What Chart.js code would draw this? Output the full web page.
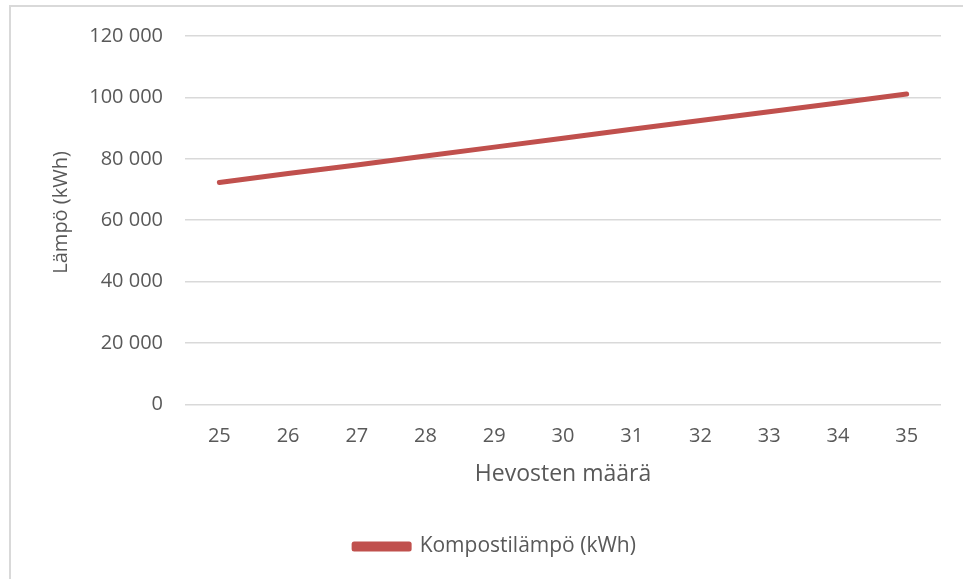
<!DOCTYPE html>
<html>
<head>
<meta charset="utf-8">
<script src="https://cdn.jsdelivr.net/npm/chart.js@4.4.1/dist/chart.umd.min.js"></script>
<style>
  html, body { margin: 0; padding: 0; background: #ffffff; overflow: hidden; }
  #frame {
    position: absolute; left: 9px; top: 5px;
    width: 960px; height: 580px;
    border-left: 2px solid #d9d9d9; border-top: 2px solid #d9d9d9;
  }
  #wrap { position: absolute; left: 0; top: 0; width: 952px; height: 572px; }
</style>
</head>
<body>
<div id="frame"><div id="wrap"><canvas id="c"></canvas></div></div>
<script>
const categories = ['25','26','27','28','29','30','31','32','33','34','35'];
const heatValues = [72300, 75200, 78000, 80900, 83800, 86700, 89600, 92500, 95300, 98200, 101100];
const seriesName = 'Kompostilämpö (kWh)';
const xTitle = 'Hevosten määrä';
const yTitle = 'Lämpö (kWh)';
const yMin = 0, yMax = 120000, yStep = 20000;

const FONT = "'Open Sans', 'Liberation Sans', sans-serif";
const TXT = '#595959';
const LINE = '#C0504D';

function fmt(v) {
  return String(v).replace(/\B(?=(\d{3})+(?!\d))/g, ' ');
}

new Chart(document.getElementById('c'), {
  type: 'line',
  data: {
    labels: categories,
    datasets: [{
      label: seriesName,
      data: heatValues,
      borderColor: LINE,
      backgroundColor: LINE,
      borderWidth: 5,
      borderCapStyle: 'round',
      borderJoinStyle: 'round',
      pointRadius: 0,
      pointHoverRadius: 0,
      tension: 0,
      fill: false
    }]
  },
  options: {
    responsive: true,
    maintainAspectRatio: false,
    animation: false,
    layout: { padding: { left: 38, right: 22, top: 29, bottom: 12 } },
    plugins: {
      tooltip: { enabled: false },
      legend: {
        position: 'bottom',
        labels: {
          color: TXT,
          font: { family: FONT, size: 21 },
          boxWidth: 55,
          boxHeight: 5,
          padding: 2
        }
      }
    },
    scales: {
      x: {
        offset: true,
        grid: { display: false, drawTicks: false },
        border: { display: false },
        ticks: { color: TXT, font: { family: FONT, size: 20 }, padding: 20 },
        title: {
          display: true, text: xTitle, color: TXT,
          font: { family: FONT, size: 23 }, padding: { top: -8, bottom: 46 }
        }
      },
      y: {
        min: yMin, max: yMax,
        afterFit: (s) => { s.width = 136; },
        grid: {
          color: '#d9d9d9', lineWidth: 1.5,
          drawTicks: true, tickLength: 10, tickColor: 'rgba(0,0,0,0)'
        },
        border: { display: false },
        ticks: {
          stepSize: yStep, color: TXT, font: { family: FONT, size: 20 }, padding: 12,
          callback: (v) => fmt(v)
        },
        title: {
          display: true, text: '\u00A0\u00A0\u00A0' + yTitle, color: TXT,
          font: { family: FONT, size: 20 }, padding: { top: 0, bottom: 0 }
        }
      }
    }
  }
});
</script>
</body>
</html>
